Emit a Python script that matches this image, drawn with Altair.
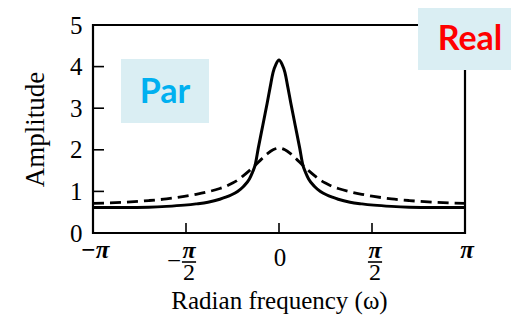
import math
import altair as alt
import pandas as pd

PI = math.pi

# Solid curve, omega in radians
solid_w = [-PI, -2.6, -2.2, -1.9, -1.6, -1.4, -1.2, -1.0, -0.9, -0.8, -0.7, -0.6, -0.5,
           -0.45, -0.4, -0.35, -0.3, -0.25, -0.2, -0.15, -0.1, -0.05, 0.0,
           0.05, 0.1, 0.15, 0.2, 0.25, 0.3, 0.35, 0.4, 0.45, 0.5,
           0.6, 0.7, 0.8, 0.9, 1.0, 1.2, 1.4, 1.6, 1.9, 2.2, 2.6, PI]
solid_a = [0.61, 0.61, 0.62, 0.64, 0.67, 0.70, 0.74, 0.81, 0.86, 0.92, 1.00, 1.12, 1.30,
           1.45, 1.65, 2.04, 2.40, 2.76, 3.12, 3.50, 3.86, 4.06, 4.16,
           4.06, 3.86, 3.50, 3.12, 2.76, 2.40, 2.04, 1.65, 1.45, 1.30,
           1.12, 1.00, 0.92, 0.86, 0.81, 0.74, 0.70, 0.67, 0.64, 0.62, 0.61, 0.61]

# Dashed curve
dashed_w = [-PI, -2.6, -2.2, -1.9, -1.6, -1.4, -1.2, -1.0, -0.9, -0.8, -0.7, -0.6, -0.5,
            -0.4, -0.3, -0.2, -0.1, 0.0, 0.1, 0.2, 0.3, 0.4, 0.5, 0.6, 0.7, 0.8, 0.9,
            1.0, 1.2, 1.4, 1.6, 1.9, 2.2, 2.6, PI]
dashed_a = [0.71, 0.74, 0.78, 0.82, 0.88, 0.93, 0.99, 1.07, 1.12, 1.19, 1.27, 1.38, 1.50,
            1.63, 1.77, 1.90, 2.00, 2.04, 2.00, 1.90, 1.77, 1.63, 1.50, 1.38, 1.27, 1.19, 1.12,
            1.07, 0.99, 0.93, 0.88, 0.82, 0.78, 0.74, 0.71]

y_tick_values = [0, 1, 2, 3, 4, 5]
y_inner_ticks = [1, 2, 3, 4]
x_inner_ticks = [-PI / 2, 0.0, PI / 2]

pi_label_w = [-PI, PI]
pi_label_text = ["\u2212\u03c0", "\u03c0"]
zero_label_w = [0.0]
zero_label_text = ["0"]
frac_w = [-PI / 2, PI / 2]

# annotation boxes (data coordinates)
box_names = ["Par", "Real"]
box_w1 = [-2.669, 2.348]
box_w2 = [-1.182, 4.06]
box_a1 = [2.644, 3.918]
box_a2 = [4.183, 5.48]
box_tw = [-1.926, 3.226]
box_ta = [3.125, 4.40]
box_colors = ["#00B0F0", "#FF0000"]

SERIF = "Liberation Serif"
H = 208  # plot height in px (labels are placed below it)

xs = alt.Scale(domain=[-PI, PI], nice=False, zero=False)
ys = alt.Scale(domain=[0, 5], nice=False, zero=False)

x_axis = alt.Axis(labels=False, ticks=False, domain=False, grid=False,
                  title="Radian frequency (\u03c9)", titleFont=SERIF, titleFontSize=25,
                  titleFontWeight="normal", titleColor="black", titleY=75,
                  titleBaseline="alphabetic")
y_axis = alt.Axis(values=y_tick_values, ticks=False, domain=False, grid=False,
                  labelFont=SERIF, labelFontSize=25, labelColor="black", labelPadding=11,
                  labelFlush=False, labelOverlap=False,
                  title="Amplitude", titleFont=SERIF, titleFontSize=27,
                  titleFontWeight="normal", titleColor="black", titleX=-50, titleY=104,
                  titleBaseline="alphabetic")

X = alt.X("w:Q", scale=xs, axis=x_axis)
Y = alt.Y("a:Q", scale=ys, axis=y_axis)

solid_df = pd.DataFrame({"w": solid_w, "a": solid_a})
dashed_df = pd.DataFrame({"w": dashed_w, "a": dashed_a})

solid = alt.Chart(solid_df).mark_line(color="black", strokeWidth=3, interpolate="monotone",
                                      clip=True).encode(x=X, y=Y)
dashed = alt.Chart(dashed_df).mark_line(color="black", strokeWidth=2.8, strokeDash=[11, 6],
                                        interpolate="monotone", clip=True).encode(x=X, y=Y)

frame_df = pd.DataFrame({"w": [-PI], "w2": [PI], "a": [0], "a2": [5]})
frame = alt.Chart(frame_df).mark_rect(filled=False, stroke="black", strokeWidth=2.2).encode(
    x=X, x2="w2:Q", y=Y, y2="a2:Q")

yt = alt.Chart(pd.DataFrame({"a": y_inner_ticks})).mark_rule(color="black", strokeWidth=1.6).encode(
    y=Y, x=alt.value(0), x2=alt.value(11))
xt = alt.Chart(pd.DataFrame({"w": x_inner_ticks})).mark_rule(color="black", strokeWidth=1.6).encode(
    x=X, y=alt.value(H), y2=alt.value(H - 10))

pi_lab = alt.Chart(pd.DataFrame({"w": pi_label_w, "t": pi_label_text})).mark_text(
    font=SERIF, fontSize=25, fontStyle="italic", fontWeight="bold", baseline="alphabetic",
    align="center", dx=2, color="black").encode(x=X, y=alt.value(H + 25), text="t:N")
zero_lab = alt.Chart(pd.DataFrame({"w": zero_label_w, "t": zero_label_text})).mark_text(
    font=SERIF, fontSize=25, baseline="alphabetic", align="center", dx=1, color="black").encode(
    x=X, y=alt.value(H + 33), text="t:N")

frac_df = pd.DataFrame({"w": frac_w, "num": ["\u03c0", "\u03c0"], "den": ["2", "2"],
                        "minus": ["\u2212", ""]})
frac_num = alt.Chart(frac_df).mark_text(
    font=SERIF, fontSize=24, fontStyle="italic", fontWeight="bold", baseline="alphabetic",
    align="center", dx=3, color="black").encode(x=X, y=alt.value(H + 25), text="num:N")
frac_bar = alt.Chart(frac_df).mark_point(shape="stroke", size=200, strokeWidth=1.6,
                                         color="black", filled=False, opacity=1).encode(
    x=X, y=alt.value(H + 29), xOffset=alt.value(3))
frac_den = alt.Chart(frac_df).mark_text(
    font=SERIF, fontSize=24, baseline="alphabetic", align="center", dx=3, color="black").encode(
    x=X, y=alt.value(H + 47), text="den:N")
frac_minus = alt.Chart(frac_df).mark_text(
    font=SERIF, fontSize=25, baseline="alphabetic", align="center", dx=-12, color="black").encode(
    x=X, y=alt.value(H + 36), text="minus:N")

box_df = pd.DataFrame({"name": box_names, "w": box_w1, "w2": box_w2, "a": box_a1, "a2": box_a2,
                       "tw": box_tw, "ta": box_ta, "c": box_colors})
boxes = alt.Chart(box_df).mark_rect(color="#DAEEF3").encode(x=X, x2="w2:Q", y=Y, y2="a2:Q")
box_text = alt.Chart(box_df).mark_text(font="Lato", fontSize=34, fontWeight="bold",
                                       baseline="alphabetic", align="center").encode(
    x=alt.X("tw:Q", scale=xs, axis=x_axis), y=alt.Y("ta:Q", scale=ys, axis=y_axis),
    text="name:N", color=alt.Color("c:N", scale=None))

chart = alt.layer(
    frame, solid, dashed, yt, xt, pi_lab, zero_lab, frac_num, frac_bar, frac_den, frac_minus,
    boxes, box_text
).properties(
    width=372, height=H,
    autosize=alt.AutoSizeParams(type="none"),
    padding={"left": 85, "top": 17, "right": 46, "bottom": 82},
    background="white",
).configure_view(stroke=None)

chart.save("out.html", embed_options={"renderer": "svg", "actions": False})
